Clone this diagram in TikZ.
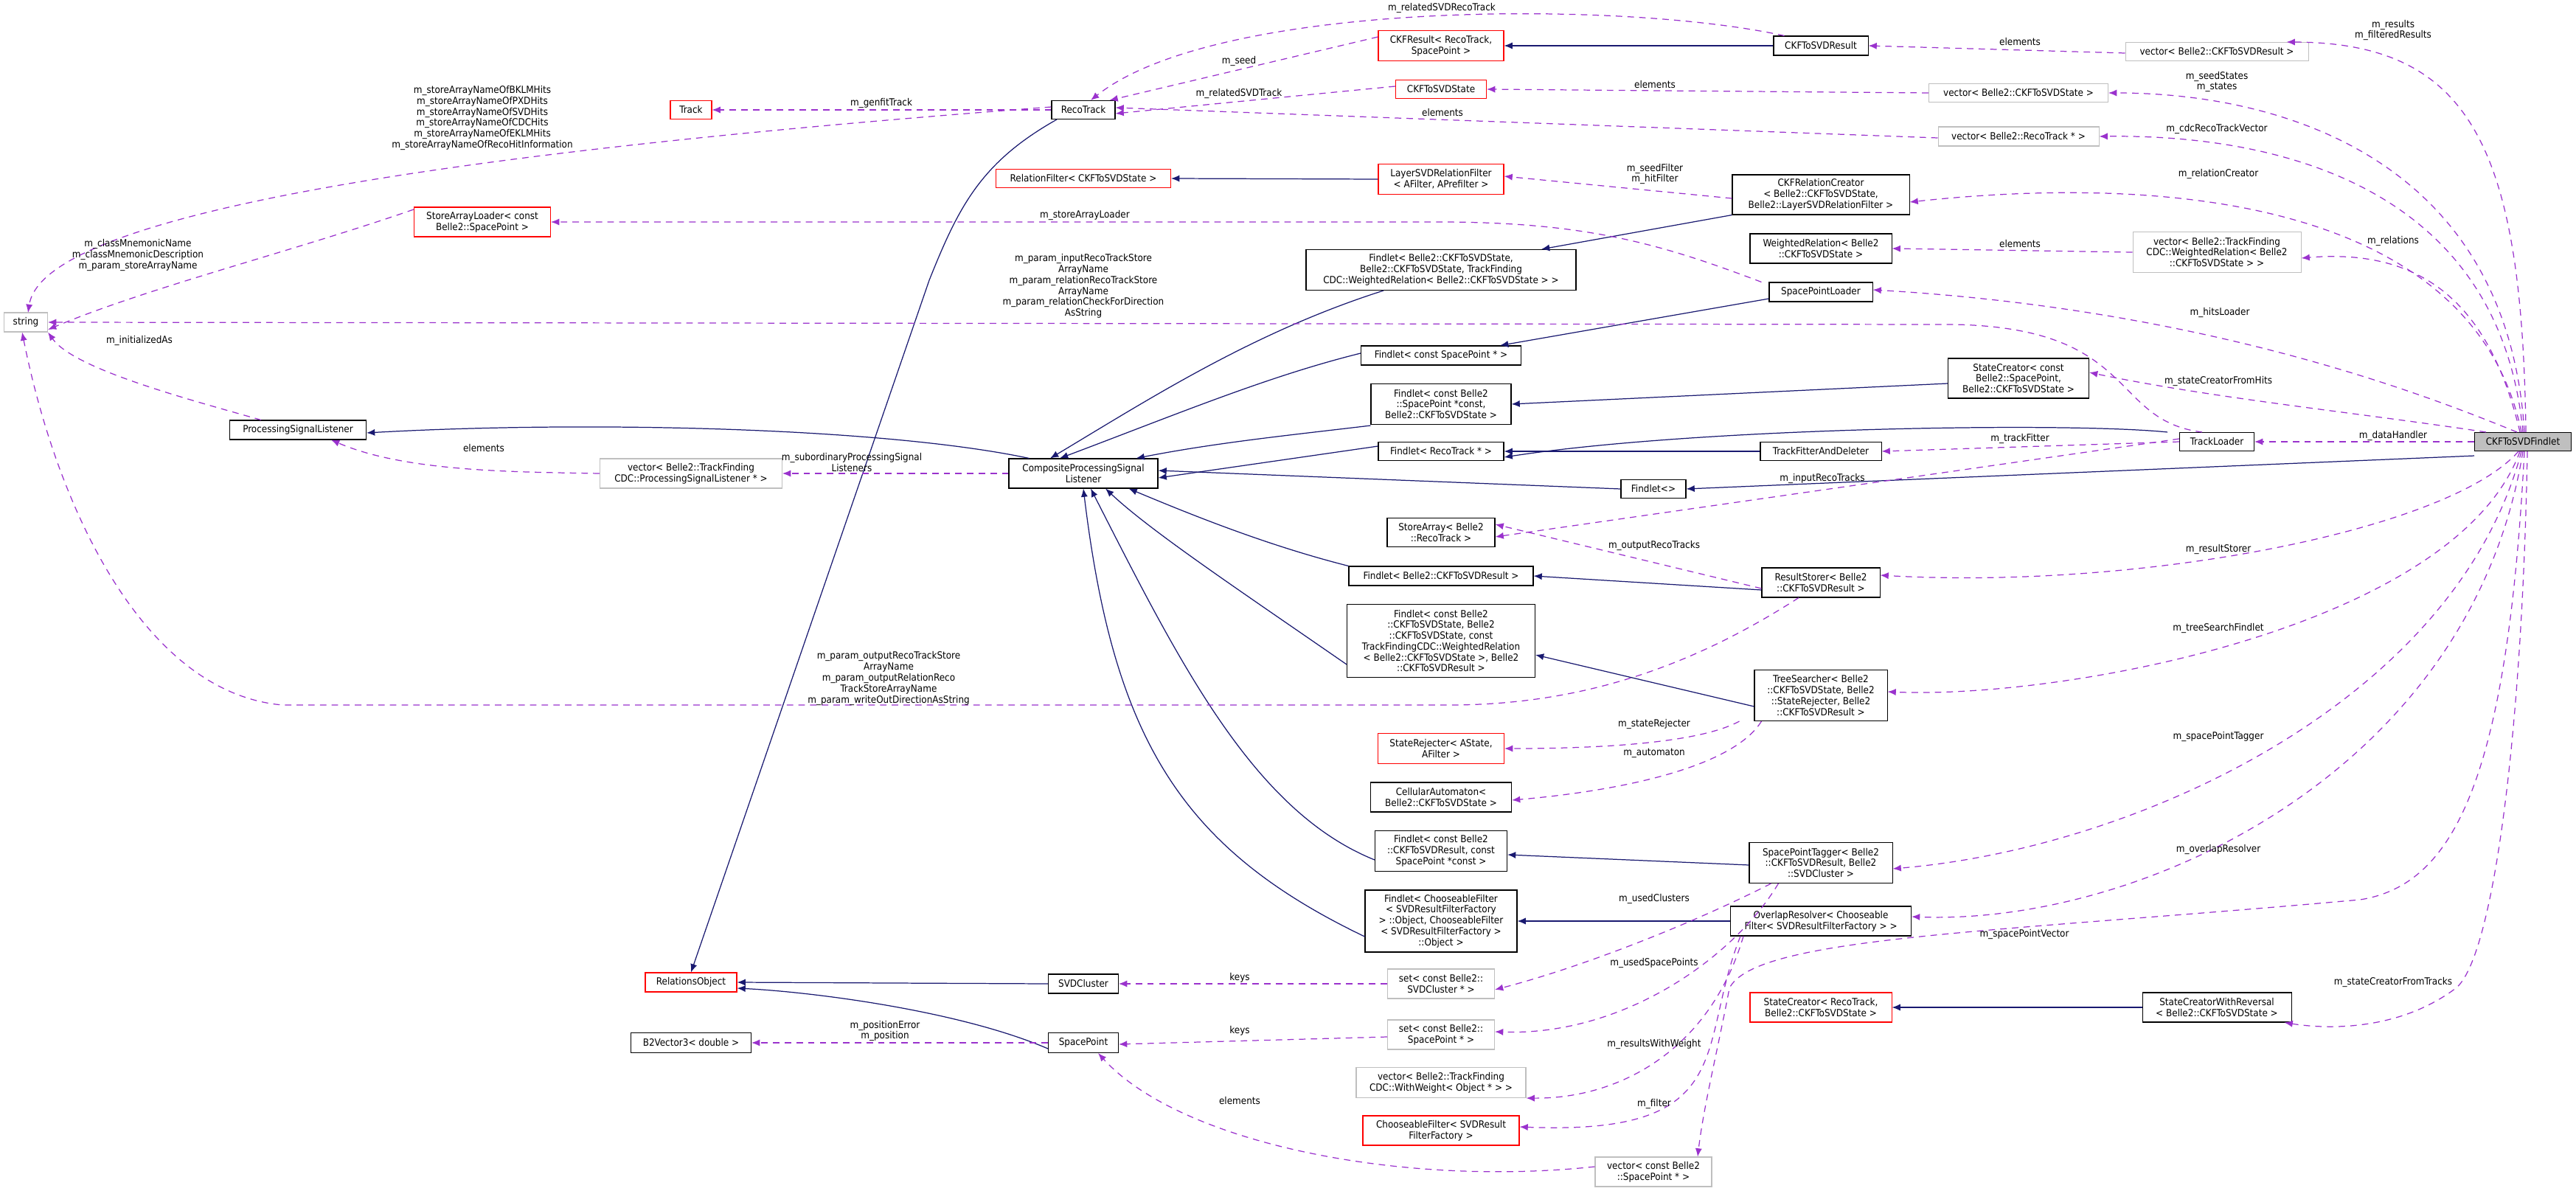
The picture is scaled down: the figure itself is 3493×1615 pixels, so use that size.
\documentclass[tikz,border=0pt]{standalone}
\usepackage{fontspec}
\setmainfont{DejaVu Sans Condensed}
\usetikzlibrary{arrows.meta}
\definecolor{navyc}{HTML}{191970}
\definecolor{purp}{HTML}{9A32CD}
\definecolor{grayb}{HTML}{BFBFBF}
\begin{document}
\begin{tikzpicture}[x=0.01cm,y=-0.01cm,
  every node/.style={font=\fontsize{3.8}{4.2}\selectfont},
  bx/.style={draw=black,fill=white,align=center,inner sep=0.5pt,line width=0.3pt},
  rb/.style={bx,draw=red},
  gb/.style={bx,draw=grayb},
  lbl/.style={align=center,inner sep=0pt},
  inh/.style={draw=navyc,line width=0.35pt,-{Latex[length=3.2pt,width=2.6pt]}},
  mem/.style={draw=purp,line width=0.35pt,dash pattern=on 2.5pt off 2pt,-{Latex[length=3.2pt,width=2.6pt]}}]
\useasboundingbox (0,0) rectangle (3493,1615);
\newcommand{\bn}[6]{\node[#1,minimum width=#4*0.01cm,minimum height=#5*0.01cm] (#2) at #3 {#6};}
\bn{rb}{track}{(937,149)}{56}{25}{Track}
\bn{bx}{recotrack}{(1469,149)}{86}{25}{RecoTrack}
\bn{rb}{ckfresult}{(1954,62)}{170}{41}{CKFResult< RecoTrack,\\ SpacePoint >}
\bn{rb}{ckfstate}{(1954,121)}{123}{25}{CKFToSVDState}
\bn{bx}{ckfsvdres}{(2469,62)}{128}{26}{CKFToSVDResult}
\bn{gb}{vres}{(3006,70)}{248}{25}{vector< Belle2::CKFToSVDResult >}
\bn{gb}{vstate}{(2737,126)}{243}{25}{vector< Belle2::CKFToSVDState >}
\bn{gb}{vreco}{(2737,185)}{218}{26}{vector< Belle2::RecoTrack * >}
\bn{rb}{relfilt}{(1469,242)}{237}{25}{RelationFilter< CKFToSVDState >}
\bn{rb}{layer}{(1954,243)}{170}{41}{LayerSVDRelationFilter\\< AFilter, APrefilter >}
\bn{bx}{relcreator}{(2469,264)}{240}{54}{CKFRelationCreator\\< Belle2::CKFToSVDState,\\ Belle2::LayerSVDRelationFilter >}
\bn{bx}{wrel}{(2469,337)}{192}{40}{WeightedRelation< Belle2\\::CKFToSVDState >}
\bn{gb}{vwrel}{(3006,342)}{228}{55}{vector< Belle2::TrackFinding\\CDC::WeightedRelation< Belle2\\::CKFToSVDState > >}
\bn{rb}{storeloader}{(654,301)}{185}{40}{StoreArrayLoader< const\\ Belle2::SpacePoint >}
\bn{gb}{string}{(35,437)}{59}{26}{string}
\bn{bx}{f1}{(1954,366)}{366}{55}{Findlet< Belle2::CKFToSVDState,\\ Belle2::CKFToSVDState, TrackFinding\\CDC::WeightedRelation< Belle2::CKFToSVDState > >}
\bn{bx}{sploader}{(2469,396)}{140}{26}{SpacePointLoader}
\bn{bx}{f2}{(1954,482)}{217}{26}{Findlet< const SpacePoint * >}
\bn{bx}{sc1}{(2737,513)}{191}{54}{StateCreator< const\\ Belle2::SpacePoint,\\ Belle2::CKFToSVDState >}
\bn{bx}{f3}{(1954,548)}{190}{55}{Findlet< const Belle2\\::SpacePoint *const,\\ Belle2::CKFToSVDState >}
\bn{bx}{psl}{(404,583)}{185}{26}{ProcessingSignalListener}
\bn{bx}{f4}{(1954,612)}{170}{25}{Findlet< RecoTrack * >}
\bn{bx}{tfd}{(2469,612)}{164}{25}{TrackFitterAndDeleter}
\bn{bx}{trackloader}{(3006,599)}{101}{25}{TrackLoader}
\bn{bx,fill=grayb}{findlet}{(3421,599)}{131}{25}{CKFToSVDFindlet}
\bn{gb}{vpsl}{(937,642)}{247}{40}{vector< Belle2::TrackFinding\\CDC::ProcessingSignalListener * >}
\bn{bx}{cpsl}{(1469,642)}{202}{40}{CompositeProcessingSignal\\Listener}
\bn{bx}{f5}{(2242,663)}{88}{25}{Findlet<>}
\bn{bx}{storearr}{(1954,722)}{146}{39}{StoreArray< Belle2\\::RecoTrack >}
\bn{bx}{f6}{(1954,781)}{250}{26}{Findlet< Belle2::CKFToSVDResult >}
\bn{bx}{resstorer}{(2469,790)}{160}{40}{ResultStorer< Belle2\\::CKFToSVDResult >}
\bn{bx}{f7}{(1954,869)}{255}{99}{Findlet< const Belle2\\::CKFToSVDState, Belle2\\::CKFToSVDState, const\\ TrackFindingCDC::WeightedRelation\\< Belle2::CKFToSVDState >, Belle2\\::CKFToSVDResult >}
\bn{bx}{treesearcher}{(2469,943)}{180}{69}{TreeSearcher< Belle2\\::CKFToSVDState, Belle2\\::StateRejecter, Belle2\\::CKFToSVDResult >}
\bn{rb}{staterej}{(1954,1015)}{171}{41}{StateRejecter< AState,\\ AFilter >}
\bn{bx}{cellaut}{(1954,1081)}{191}{40}{CellularAutomaton<\\ Belle2::CKFToSVDState >}
\bn{bx}{f8}{(1954,1154)}{179}{55}{Findlet< const Belle2\\::CKFToSVDResult, const\\ SpacePoint *const >}
\bn{bx}{sptagger}{(2469,1170)}{194}{55}{SpacePointTagger< Belle2\\::CKFToSVDResult, Belle2\\::SVDCluster >}
\bn{bx}{f9}{(1954,1249)}{206}{84}{Findlet< ChooseableFilter\\< SVDResultFilterFactory\\ > ::Object, ChooseableFilter\\< SVDResultFilterFactory >\\::Object >}
\bn{bx}{overlap}{(2469,1249)}{245}{40}{OverlapResolver< Chooseable\\Filter< SVDResultFilterFactory > >}
\bn{rb}{relobj}{(937,1332)}{124}{26}{RelationsObject}
\bn{bx}{svdcl}{(1469,1334)}{95}{26}{SVDCluster}
\bn{gb}{setsvd}{(1954,1334)}{145}{40}{set< const Belle2::\\SVDCluster * >}
\bn{rb}{sc2}{(2469,1366)}{192}{40}{StateCreator< RecoTrack,\\ Belle2::CKFToSVDState >}
\bn{bx}{scwr}{(3006,1366)}{202}{40}{StateCreatorWithReversal\\< Belle2::CKFToSVDState >}
\bn{bx}{b2v}{(937,1414)}{163}{27}{B2Vector3< double >}
\bn{bx}{sp}{(1469,1414)}{95}{27}{SpacePoint}
\bn{gb}{setsp}{(1954,1403)}{145}{40}{set< const Belle2::\\SpacePoint * >}
\bn{gb}{vww}{(1954,1468)}{230}{41}{vector< Belle2::TrackFinding\\CDC::WithWeight< Object * > >}
\bn{rb}{choosef}{(1954,1533)}{212}{40}{ChooseableFilter< SVDResult\\FilterFactory >}
\bn{gb}{vsp}{(2242,1589)}{158}{40}{vector< const Belle2\\::SpacePoint * >}

% inheritance
\draw[inh] (ckfsvdres.west) -- (ckfresult.east);
\draw[inh] (layer.west) -- (relfilt.east);
\draw[inh] (relcreator.south west) -- ([xshift=136*0.01cm]f1.north);
\draw[inh] ([yshift=-9*0.01cm]sploader.west) -- ([xshift=80*0.01cm]f2.north);
\draw[inh] ([yshift=-7*0.01cm]sc1.west) -- (f3.east);
\draw[inh] ([xshift=-16*0.01cm]trackloader.north west) .. controls (2800,572) and (2300,580) .. ([yshift=-8*0.01cm]f4.east);
\draw[inh] (tfd.west) -- (f4.east);
\draw[inh] ([yshift=-6*0.01cm]findlet.south west) -- (f5.east);
\draw[inh] ([yshift=-10*0.01cm]resstorer.west) -- (f6.east);
\draw[inh] ([yshift=-15*0.01cm]treesearcher.west) -- ([yshift=-19*0.01cm]f7.east);
\draw[inh] ([yshift=-3*0.01cm]sptagger.west) -- ([yshift=-5*0.01cm]f8.east);
\draw[inh] (overlap.west) -- (f9.east);
\draw[inh] (scwr.west) -- (sc2.east);
\draw[inh] ([xshift=-78*0.01cm]f1.south) .. controls (1700,450) and (1560,540) .. ([xshift=-45*0.01cm]cpsl.north);
\draw[inh] ([yshift=3*0.01cm]f2.west) .. controls (1720,510) and (1600,560) .. ([xshift=-32*0.01cm]cpsl.north);
\draw[inh] ([yshift=-1*0.01cm]f3.south west) .. controls (1750,590) and (1650,600) .. ([xshift=-30*0.01cm]cpsl.north east);
\draw[inh] ([yshift=7*0.01cm]f4.west) -- ([yshift=-6*0.01cm]cpsl.east);
\draw[inh] (f5.west) -- ([yshift=4*0.01cm]cpsl.east);
\draw[inh] (f6.north west) .. controls (1720,740) and (1620,700) .. ([xshift=-40*0.01cm]cpsl.south east);
\draw[inh] ([yshift=-32*0.01cm]f7.west) .. controls (1680,800) and (1560,720) .. ([xshift=30*0.01cm]cpsl.south);
\draw[inh] ([yshift=-12*0.01cm]f8.west) .. controls (1700,1100) and (1600,900) .. ([xshift=10*0.01cm]cpsl.south);
\draw[inh] ([yshift=-21*0.01cm]f9.west) .. controls (1600,1150) and (1510,1000) .. (cpsl.south);
\draw[inh] ([xshift=28*0.01cm]cpsl.north west) .. controls (1200,580) and (800,570) .. ([yshift=-4*0.01cm]psl.east);
\draw[inh] ([xshift=-36*0.01cm]recotrack.south) .. controls (1330,220) and (1300,280) .. (1260,380) -- (relobj.north);
\draw[inh] (svdcl.west) -- (relobj.east);
\draw[inh] ([yshift=-8*0.01cm]sp.west) .. controls (1300,1370) and (1100,1345) .. ([yshift=-8*0.01cm]relobj.east);

% members
\draw[mem] (recotrack.west) -- (track.east);
\node[lbl] (l1) at (1195,140) {m\_genfitTrack};
\draw[mem] ([yshift=4*0.01cm]recotrack.west) .. controls (700,200) and (60,280) .. (38,424);
\node[lbl] (l2) at (654,160) {m\_storeArrayNameOfBKLMHits\\m\_storeArrayNameOfPXDHits\\m\_storeArrayNameOfSVDHits\\m\_storeArrayNameOfCDCHits\\m\_storeArrayNameOfEKLMHits\\m\_storeArrayNameOfRecoHitInformation};
\draw[mem] ([yshift=12*0.01cm]ckfresult.west) -- ([xshift=-8*0.01cm]recotrack.north east);
\node[lbl] (l3) at (1680,83) {m\_seed};
\draw[mem] ([yshift=4*0.01cm]ckfstate.west) -- ([yshift=-5*0.01cm]recotrack.east);
\node[lbl] (l4) at (1680,127) {m\_relatedSVDTrack};
\draw[mem] ([xshift=15*0.01cm]ckfsvdres.north west) .. controls (2200,0) and (1650,0) .. ([xshift=10*0.01cm]recotrack.north);
\node[lbl] (l5) at (1955,11) {m\_relatedSVDRecoTrack};
\draw[mem] ([yshift=-2*0.01cm]vreco.west) -- ([yshift=3*0.01cm]recotrack.east);
\node[lbl] (l6) at (1956,153) {elements};
\draw[mem] (vstate.west) -- (ckfstate.east);
\node[lbl] (l7) at (2244,115) {elements};
\draw[mem] ([yshift=-2*0.01cm]vres.west) -- (ckfsvdres.east);
\node[lbl] (l8) at (2739,57) {elements};
\draw[mem] ([yshift=-5*0.01cm]relcreator.west) -- ([yshift=4*0.01cm]layer.east);
\node[lbl] (l9) at (2244,236) {m\_seedFilter\\m\_hitFilter};
\draw[mem] ([xshift=-10*0.01cm]sploader.north west) .. controls (2250,330) and (2150,301) .. (1950,301) -- (storeloader.east);
\node[lbl] (l10) at (1471,292) {m\_storeArrayLoader};
\draw[mem] ([yshift=17*0.01cm]storeloader.west) .. controls (400,340) and (200,390) .. ([yshift=-10*0.01cm]string.east);
\node[lbl] (l11) at (187,346) {m\_classMnemonicName\\m\_classMnemonicDescription\\m\_param\_storeArrayName};
\draw[mem] ([xshift=-20*0.01cm]trackloader.north) .. controls (2860,570) and (2900,445) .. (2650,440) -- (string.east);
\node[lbl] (l12) at (1469,388) {m\_param\_inputRecoTrackStore\\ArrayName\\m\_param\_relationRecoTrackStore\\ArrayName\\m\_param\_relationCheckForDirection\\AsString};
\draw[mem] ([xshift=-50*0.01cm]psl.north) .. controls (250,540) and (100,500) .. (string.south east);
\node[lbl] (l13) at (189,462) {m\_initializedAs};
\draw[mem] (vpsl.west) .. controls (700,640) and (550,640) .. ([xshift=45*0.01cm]psl.south);
\node[lbl] (l14) at (656,608) {elements};
\draw[mem] (cpsl.west) -- (vpsl.east);
\node[lbl] (l15) at (1155,627) {m\_subordinaryProcessingSignal\\Listeners};
\draw[mem] (vwrel.west) -- (wrel.east);
\node[lbl] (l16) at (2739,331) {elements};
\draw[mem] (trackloader.west) -- (tfd.east);
\node[lbl] (l17) at (2739,595) {m\_trackFitter};
\draw[mem] ([yshift=4*0.01cm]trackloader.west) -- ([yshift=-6*0.01cm]storearr.east);
\node[lbl] (l18) at (2471,649) {m\_inputRecoTracks};
\draw[mem] ([yshift=-8*0.01cm]resstorer.west) -- ([yshift=11*0.01cm]storearr.east);
\node[lbl] (l19) at (2243,740) {m\_outputRecoTracks};
\draw[mem] ([xshift=-30*0.01cm]resstorer.south) .. controls (2300,900) and (2150,956) .. (1965,956) -- (383,956) .. controls (200,940) and (80,700) .. ([xshift=-5*0.01cm]string.south);
\node[lbl] (l20) at (1205,920) {m\_param\_outputRecoTrackStore\\ArrayName\\m\_param\_outputRelationReco\\TrackStoreArrayName\\m\_param\_writeOutDirectionAsString};
\draw[mem] ([xshift=-20*0.01cm]treesearcher.south west) .. controls (2300,1010) and (2150,1015) .. (staterej.east);
\node[lbl] (l21) at (2243,982) {m\_stateRejecter};
\draw[mem] ([xshift=10*0.01cm]treesearcher.south west) .. controls (2350,1040) and (2200,1072) .. ([yshift=-4*0.01cm]cellaut.east);
\node[lbl] (l22) at (2243,1021) {m\_automaton};
\draw[mem] ([xshift=30*0.01cm]sptagger.south west) .. controls (2300,1250) and (2150,1310) .. ([yshift=-8*0.01cm]setsvd.east);
\node[lbl] (l23) at (2243,1219) {m\_usedClusters};
\draw[mem] ([xshift=40*0.01cm]sptagger.south west) .. controls (2350,1300) and (2200,1405) .. ([yshift=4*0.01cm]setsp.east);
\node[lbl] (l24) at (2243,1306) {m\_usedSpacePoints};
\draw[mem] (setsvd.west) -- (svdcl.east);
\node[lbl] (l25) at (1681,1326) {keys};
\draw[mem] ([yshift=-3*0.01cm]setsp.west) -- ([yshift=-2*0.01cm]sp.east);
\node[lbl] (l26) at (1681,1398) {keys};
\draw[mem] ([xshift=18*0.01cm]overlap.south west) .. controls (2320,1420) and (2200,1490) .. (vww.south east);
\node[lbl] (l27) at (2243,1416) {m\_resultsWithWeight};
\draw[mem] ([xshift=14*0.01cm]overlap.south west) .. controls (2300,1420) and (2360,1540) .. ([yshift=5*0.01cm]choosef.east);
\node[lbl] (l28) at (2243,1497) {m\_filter};
\draw[mem] ([yshift=7*0.01cm]vsp.west) .. controls (1900,1610) and (1600,1550) .. ([xshift=20*0.01cm]sp.south);
\node[lbl] (l29) at (1681,1493) {elements};
\draw[mem] (sp.west) -- (b2v.east);
\node[lbl] (l30) at (1200,1398) {m\_positionError\\m\_position};
% from CKFToSVDFindlet
\draw[mem] ([xshift=4*0.01cm]findlet.north) .. controls (3420,200) and (3350,58) .. ([xshift=-30*0.01cm]vres.north east);
\node[lbl] (l31) at (3245,41) {m\_results\\m\_filteredResults};
\draw[mem] ([xshift=2*0.01cm]findlet.north) .. controls (3400,220) and (3100,126) .. (vstate.east);
\node[lbl] (l32) at (3006,111) {m\_seedStates\\m\_states};
\draw[mem] (findlet.north) .. controls (3390,260) and (3100,182) .. (vreco.east);
\node[lbl] (l33) at (3006,175) {m\_cdcRecoTrackVector};
\draw[mem] ([xshift=-2*0.01cm]findlet.north) .. controls (3360,300) and (3000,230) .. ([yshift=-10*0.01cm]relcreator.east);
\node[lbl] (l34) at (3008,236) {m\_relationCreator};
\draw[mem] ([xshift=-4*0.01cm]findlet.north) .. controls (3380,430) and (3300,335) .. ([yshift=-8*0.01cm]vwrel.east);
\node[lbl] (l35) at (3245,327) {m\_relations};
\draw[mem] ([xshift=-8*0.01cm]findlet.north) .. controls (3300,540) and (3000,420) .. ([yshift=3*0.01cm]sploader.east);
\node[lbl] (l36) at (3010,424) {m\_hitsLoader};
\draw[mem] ([xshift=-50*0.01cm]findlet.north) .. controls (3200,560) and (3000,540) .. ([yshift=8*0.01cm]sc1.east);
\node[lbl] (l37) at (3008,517) {m\_stateCreatorFromHits};
\draw[mem] (findlet.west) -- (trackloader.east);
\node[lbl] (l38) at (3245,591) {m\_dataHandler};
\draw[mem] ([xshift=-6*0.01cm]findlet.south) .. controls (3320,720) and (2900,800) .. ([yshift=10*0.01cm]resstorer.east);
\node[lbl] (l39) at (3008,745) {m\_resultStorer};
\draw[mem] ([xshift=-4*0.01cm]findlet.south) .. controls (3330,850) and (2800,948) .. ([yshift=5*0.01cm]treesearcher.east);
\node[lbl] (l40) at (3008,852) {m\_treeSearchFindlet};
\draw[mem] ([xshift=-2*0.01cm]findlet.south) .. controls (3330,950) and (2900,1150) .. ([yshift=-8*0.01cm]sptagger.east);
\node[lbl] (l41) at (3008,999) {m\_spacePointTagger};
\draw[mem] (findlet.south) .. controls (3350,1050) and (2900,1255) .. ([yshift=6*0.01cm]overlap.east);
\node[lbl] (l42) at (3008,1152) {m\_overlapResolver};
\draw[mem] ([xshift=2*0.01cm]findlet.south) .. controls (3400,1050) and (3330,1200) .. (3200,1220) .. controls (2700,1265) and (2380,1270) .. (2345,1340) .. controls (2330,1420) and (2310,1500) .. ([xshift=60*0.01cm]vsp.north);
\node[lbl] (l43) at (2745,1267) {m\_spacePointVector};
\draw[mem] ([xshift=6*0.01cm]findlet.south) .. controls (3420,1000) and (3380,1300) .. (3330,1340) .. controls (3250,1400) and (3150,1395) .. ([xshift=-10*0.01cm]scwr.south east);
\node[lbl] (l44) at (3245,1332) {m\_stateCreatorFromTracks};
\end{tikzpicture}
\end{document}
